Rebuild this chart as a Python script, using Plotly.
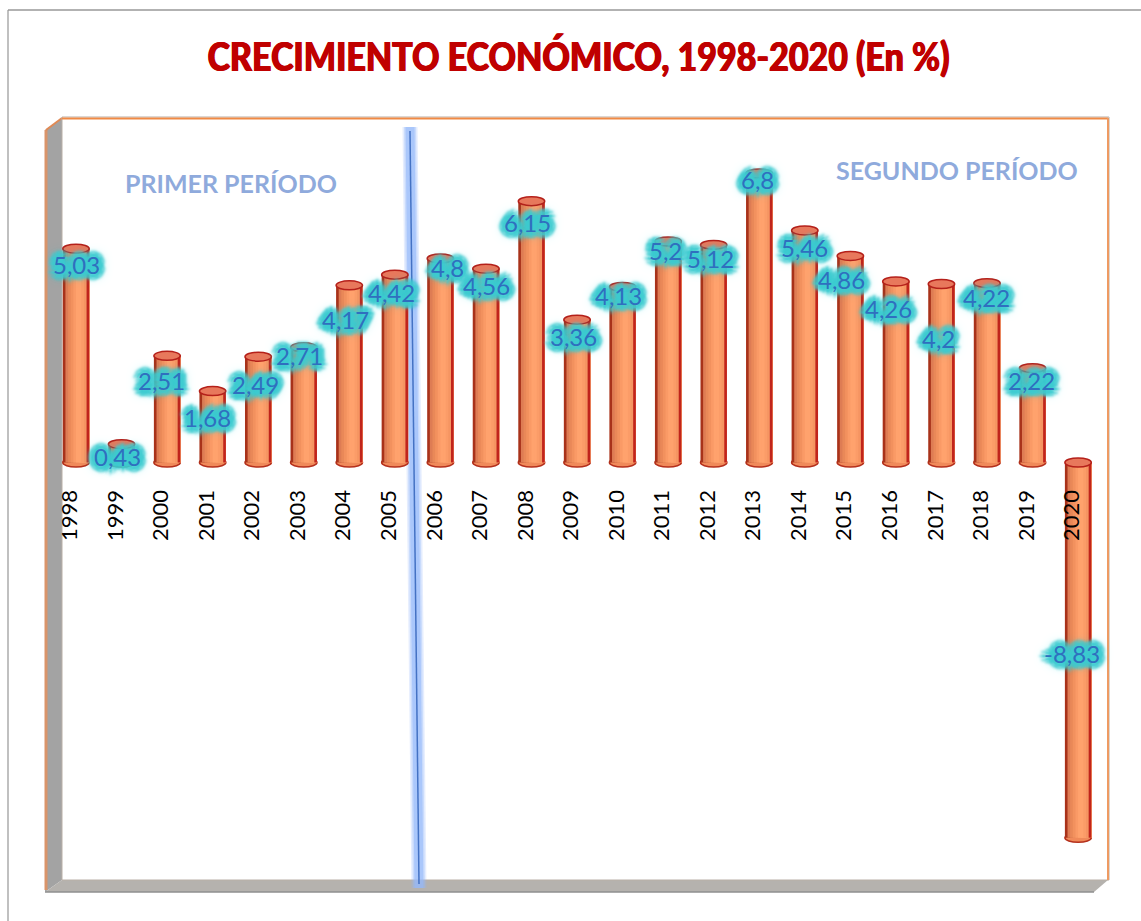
import plotly.graph_objects as go

# Crecimiento economico 1998-2020
anios = list(range(1998, 2021))
crecimiento = [5.03, 0.43, 2.51, 1.68, 2.49, 2.71, 4.17, 4.42, 4.8, 4.56, 6.15, 3.36,
               4.13, 5.2, 5.12, 6.8, 5.46, 4.86, 4.26, 4.2, 4.22, 2.22, -8.83]
etiquetas = ["5,03", "0,43", "2,51", "1,68", "2,49", "2,71", "4,17", "4,42", "4,8", "4,56", "6,15", "3,36",
             "4,13", "5,2", "5,12", "6,8", "5,46", "4,86", "4,26", "4,2", "4,22", "2,22", "-8,83"]

# desplazamiento de cada etiqueta respecto a la punta de su barra (px)
etiqueta_dx = [0, -4, -6, -5, -3, -4, -4, -3, 7, 1, -4, -4, -4, -3, -3, -2, 0, -9, -7, -3, -1, -1, -6]
etiqueta_dy = [16, 12, 25, 26, 28, 8, 34, 18, 9, 17, 21, 17, 9, 9, 14, 6, 17, 24, 27, 54, 14, 12, -184]

W, H = 1141, 921
PX_ANIO = 45.55
PX_UNIDAD = 42.5
X_1998 = 76
Y_CERO = 462.5

# franjas verticales para simular el cilindro
colores_franja = ["#A8321A", "#DE7C54", "#E98858", "#F2915E", "#FA9A66", "#FFA26D",
                  "#FFA26D", "#FB9C68", "#F59562", "#C0241C"]
ANCHO_BARRA = 0.58


def px(x):
    return x / W


def py(y):
    return 1 - y / H


fig = go.Figure()

# cada franja llega hasta el borde derecho y la siguiente la tapa, asi no quedan rendijas
ancho_franja = ANCHO_BARRA / len(colores_franja)
for i, color in enumerate(colores_franja):
    fig.add_trace(go.Bar(x=anios, y=crecimiento, width=ANCHO_BARRA - i * ancho_franja,
                         offset=-ANCHO_BARRA / 2 + i * ancho_franja,
                         marker=dict(color=color, line=dict(width=0)),
                         showlegend=False, hoverinfo="x+y"))

shapes = []
# marco exterior, solo arriba y a la izquierda
shapes.append(dict(type="line", xref="paper", yref="paper", x0=px(8), x1=px(8), y0=py(921), y1=py(10),
                   line=dict(color="#ABABAB", width=1.5), layer="below"))
shapes.append(dict(type="line", xref="paper", yref="paper", x0=px(8), x1=px(1141), y0=py(10), y1=py(10),
                   line=dict(color="#999999", width=1.5), layer="below"))

# caja 3D
shapes.append(dict(type="path", xref="paper", yref="paper", layer="below",
                   path=f"M {px(45)} {py(130)} L {px(62)} {py(118)} L {px(62)} {py(880)} L {px(45)} {py(892)} Z",
                   fillcolor="#A3A3A3", line=dict(width=0)))
shapes.append(dict(type="path", xref="paper", yref="paper", layer="below",
                   path=f"M {px(45)} {py(892)} L {px(62)} {py(880)} L {px(1108)} {py(880)} L {px(1094)} {py(892)} Z",
                   fillcolor="#B5B2AE", line=dict(width=0)))
shapes.append(dict(type="line", xref="paper", yref="paper", x0=px(46), x1=px(46), y0=py(130), y1=py(890),
                   line=dict(color="#D9946A", width=3), layer="below"))
shapes.append(dict(type="line", xref="paper", yref="paper", x0=px(46), x1=px(62), y0=py(130), y1=py(118),
                   line=dict(color="#E08A55", width=2), layer="below"))
shapes.append(dict(type="line", xref="paper", yref="paper", x0=px(45), x1=px(1094), y0=py(892), y1=py(892),
                   line=dict(color="#8F8F8F", width=1.5), layer="below"))
shapes.append(dict(type="rect", xref="paper", yref="paper", x0=px(62), x1=px(1109), y0=py(880), y1=py(117),
                   line=dict(color="#B9AFA6", width=1), fillcolor="white", layer="below"))
shapes.append(dict(type="line", xref="paper", yref="paper", x0=px(62), x1=px(1108), y0=py(118.5), y1=py(118.5),
                   line=dict(color="#F08A45", width=2), layer="below"))
shapes.append(dict(type="line", xref="paper", yref="paper", x0=px(1108), x1=px(1108), y0=py(118), y1=py(880),
                   line=dict(color="#EE9A62", width=2), layer="below"))

# linea azul con resplandor
for ancho, color in [(15, "rgba(150,185,250,0.25)"), (12, "rgba(150,185,250,0.35)"),
                     (9, "rgba(150,185,250,0.6)")]:
    shapes.append(dict(type="line", xref="paper", yref="paper", x0=px(410), y0=py(127), x1=px(419), y1=py(888),
                       line=dict(color=color, width=ancho), layer="below"))
shapes.append(dict(type="line", xref="paper", yref="paper", x0=px(410), y0=py(131), x1=px(419), y1=py(884),
                   line=dict(color="#4472C4", width=1.5), layer="below"))

# tapas de los cilindros
for anio, valor in zip(anios, crecimiento):
    punta = dict(type="circle", xref="x", yref="y", ysizemode="pixel", x0=anio - ANCHO_BARRA / 2,
                 x1=anio + ANCHO_BARRA / 2, y0=-4.5, y1=4.5)
    extremo_abajo, extremo_arriba = (0, valor) if valor > 0 else (valor, 0)
    shapes.append(dict(punta, yanchor=extremo_abajo, fillcolor="#F08A5A",
                       line=dict(color="#B5301C", width=1.5), layer="below"))
    shapes.append(dict(punta, yanchor=extremo_arriba, fillcolor="#E8785C",
                       line=dict(color="#B5201A", width=1.5), layer="above"))

c = "#3CCBD0"
halo = (f"3px 0 2px {c}, -3px 0 2px {c}, 0 3px 2px {c}, 0 -3px 2px {c}, "
        f"4px 4px 3px {c}, -4px 4px 3px {c}, 4px -4px 3px {c}, -4px -4px 3px {c}, "
        f"6px 0 3px {c}, -6px 0 3px {c}, 0 6px 3px {c}, 0 -6px 3px {c}, "
        f"0 0 10px {c}, 0 0 13px {c}")
anotaciones = []
for anio, valor, texto, dx, dy in zip(anios, crecimiento, etiquetas, etiqueta_dx, etiqueta_dy):
    anotaciones.append(dict(x=anio, y=valor, text=texto, showarrow=False, xshift=dx, yshift=-dy,
                            font=dict(family="Lato", size=24, color="#2F6FBF", shadow=halo)))

# la sombra sin desenfoque engorda la letra del titulo
grueso = "0.7px 0 0 #C00000, -0.7px 0 0 #C00000"
anotaciones.append(dict(xref="paper", yref="paper", x=px(578), y=py(56), showarrow=False,
                        xanchor="center", yanchor="middle",
                        text="CRECIMIENTO ECONÓMICO, 1998-2020 (En %)",
                        font=dict(family="Lato", size=40, weight=900, color="#C00000", shadow=grueso)))
anotaciones.append(dict(xref="paper", yref="paper", x=px(231), y=py(183), showarrow=False,
                        xanchor="center", yanchor="middle",
                        text="<b>PRIMER PERÍODO</b>", font=dict(family="Lato", size=25, color="#8FAADC")))
anotaciones.append(dict(xref="paper", yref="paper", x=px(957), y=py(170), showarrow=False,
                        xanchor="center", yanchor="middle",
                        text="<b>SEGUNDO PERÍODO</b>", font=dict(family="Lato", size=25, color="#8FAADC")))

fig.update_layout(
    width=W, height=H, autosize=False,
    margin=dict(l=0, r=0, t=0, b=0),
    paper_bgcolor="white", plot_bgcolor="rgba(0,0,0,0)",
    barmode="overlay", showlegend=False,
    shapes=shapes, annotations=anotaciones,
    xaxis=dict(range=[1998 - X_1998 / PX_ANIO, 1998 + (W - X_1998) / PX_ANIO],
               domain=[0, 1], anchor="free", position=py(Y_CERO),
               tickmode="array", tickvals=anios, ticktext=[str(a) for a in anios],
               tickangle=-90, tickfont=dict(family="Lato", size=22, color="black"),
               ticks="", showgrid=False, zeroline=False, showline=False, ticklabelstandoff=22,
               ticklabelshift=-6),
    yaxis=dict(range=[(Y_CERO - H) / PX_UNIDAD, Y_CERO / PX_UNIDAD], domain=[0, 1],
               visible=False, showgrid=False, zeroline=False),
)

# el titulo original es una letra condensada: se estrecha el texto hasta su ancho
ajuste = """
document.body.style.margin='0';document.body.style.overflow='hidden';
document.querySelectorAll('.annotation-text').forEach(function(t){
  if(t.textContent.indexOf('CRECIMIENTO')===0){
    t.setAttribute('textLength','742');t.setAttribute('lengthAdjust','spacingAndGlyphs');
  }
});
"""
fig.write_html("out.html", config=dict(displayModeBar=False), post_script=ajuste)
